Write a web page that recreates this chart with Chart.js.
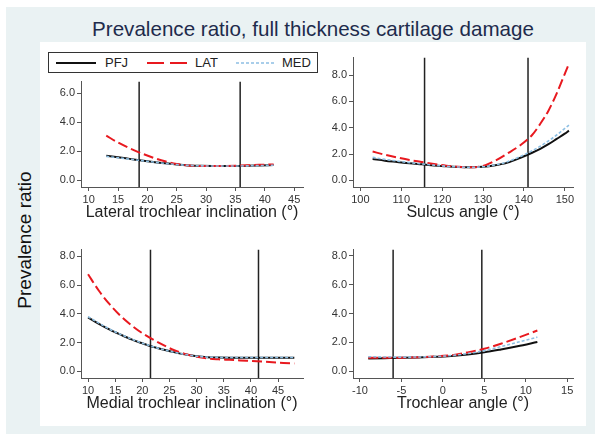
<!DOCTYPE html>
<html>
<head>
<meta charset="utf-8">
<script src="https://cdn.jsdelivr.net/npm/chart.js@4.4.1/dist/chart.umd.min.js"></script>
<style>
  body { margin: 0; width: 601px; height: 442px; background: #fff; position: relative; overflow: hidden;
         font-family: "Liberation Sans", Arial, sans-serif; }
  #outer { position: absolute; left: 6px; top: 7px; width: 589px; height: 427px; background: #eaf2f3; }
  #inner { position: absolute; left: 40px; top: 42px; width: 546px; height: 384px; background: #fff; }
  #title { position: absolute; left: 40px; width: 546px; top: 17px; text-align: center; font-size: 20.6px; color: #1e2b4c; white-space: nowrap; }
  #ylab { position: absolute; left: 25px; top: 240px; transform: translate(-50%, -50%) rotate(-90deg);
          font-size: 19px; color: #111; white-space: nowrap; }
  #legend { position: absolute; left: 48px; top: 52px; width: 270px; height: 21px; box-sizing: border-box;
            border: 1px solid #333; background: #fff; font-size: 13px; color: #222; }
  #legend svg, #legend span { position: absolute; }
  #legend span { top: 2px; }
  canvas { position: absolute; }
</style>
</head>
<body>
<div id="outer"></div>
<div id="inner"></div>
<div id="title">Prevalence ratio, full thickness cartilage damage</div>
<div id="ylab">Prevalence ratio</div>
<div id="legend">
  <svg style="left:6px;top:0" width="42" height="19"><line x1="1" y1="10" x2="41" y2="10" stroke="#111" stroke-width="2"/></svg>
  <span style="left:56px">PFJ</span>
  <svg style="left:97px;top:0" width="42" height="19"><line x1="1" y1="10" x2="41" y2="10" stroke="#e8191f" stroke-width="2" stroke-dasharray="17 6"/></svg>
  <span style="left:146px">LAT</span>
  <svg style="left:186px;top:0" width="42" height="19"><line x1="1" y1="10" x2="41" y2="10" stroke="#8dbfe3" stroke-width="1.6" stroke-dasharray="3 2"/></svg>
  <span style="left:233px">MED</span>
</div>
<canvas id="c1"></canvas>
<canvas id="c2"></canvas>
<canvas id="c3"></canvas>
<canvas id="c4"></canvas>
<script>
// Lateral trochlear inclination
const latX   = [13, 15, 17, 19, 21, 23, 25, 27, 29, 31, 33, 35, 37, 39, 41.5];
const latPFJ = [1.68, 1.58, 1.47, 1.36, 1.26, 1.16, 1.08, 1.02, 0.99, 0.98, 0.98, 0.98, 0.99, 1.01, 1.04];
const latLAT = [3.07, 2.60, 2.20, 1.85, 1.55, 1.30, 1.12, 1.02, 0.98, 0.97, 0.98, 1.00, 1.03, 1.06, 1.08];
const latMED = [1.64, 1.55, 1.45, 1.35, 1.25, 1.16, 1.08, 1.02, 0.99, 0.98, 0.98, 0.98, 0.99, 1.01, 1.03];
const latRefs = [18.6, 35.8];
const latXTicks = [10, 15, 20, 25, 30, 35, 40, 45];
const latYTicks = [0, 2, 4, 6];

// Sulcus angle
const sulX   = [103, 106, 109, 112, 115, 118, 121, 124, 127, 130, 133, 136, 139, 142, 144, 146, 148, 150, 151];
const sulPFJ = [1.62, 1.50, 1.40, 1.30, 1.22, 1.14, 1.07, 1.02, 1.00, 1.03, 1.15, 1.35, 1.70, 2.10, 2.40, 2.75, 3.15, 3.55, 3.78];
const sulLAT = [2.19, 1.95, 1.74, 1.55, 1.40, 1.25, 1.12, 1.03, 1.00, 1.10, 1.50, 2.05, 2.65, 3.45, 4.30, 5.30, 6.60, 8.10, 8.85];
const sulMED = [1.75, 1.60, 1.47, 1.35, 1.25, 1.16, 1.08, 1.02, 1.00, 1.04, 1.18, 1.42, 1.80, 2.25, 2.60, 3.00, 3.45, 3.95, 4.20];
const sulRefs = [115.7, 141.0];
const sulXTicks = [100, 110, 120, 130, 140, 150];
const sulYTicks = [0, 2, 4, 6, 8];

// Medial trochlear inclination
const medX   = [10, 12, 14, 16, 18, 20, 22, 24, 26, 28, 30, 32, 34, 36, 38, 40, 42, 44, 46, 48];
const medPFJ = [3.75, 3.30, 2.90, 2.55, 2.22, 1.95, 1.70, 1.50, 1.32, 1.17, 1.05, 0.98, 0.96, 0.95, 0.95, 0.95, 0.95, 0.95, 0.95, 0.95];
const medLAT = [6.75, 5.60, 4.65, 3.85, 3.20, 2.65, 2.20, 1.80, 1.45, 1.20, 1.02, 0.90, 0.84, 0.80, 0.76, 0.72, 0.68, 0.64, 0.59, 0.55];
const medMED = [3.80, 3.35, 2.93, 2.57, 2.24, 1.96, 1.71, 1.50, 1.32, 1.17, 1.05, 0.99, 0.97, 0.96, 0.96, 0.96, 0.96, 0.96, 0.96, 0.96];
const medRefs = [21.5, 41.4];
const medXTicks = [10, 15, 20, 25, 30, 35, 40, 45];
const medYTicks = [0, 2, 4, 6, 8];

// Trochlear angle
const troX   = [-9, -7, -5, -3, -1, 1, 3, 5, 7, 9, 11.4];
const troPFJ = [0.88, 0.90, 0.92, 0.95, 0.99, 1.05, 1.15, 1.30, 1.50, 1.72, 2.02];
const troLAT = [0.92, 0.92, 0.93, 0.96, 1.01, 1.10, 1.30, 1.55, 1.90, 2.30, 2.82];
const troMED = [1.00, 0.98, 0.97, 0.98, 1.01, 1.08, 1.22, 1.42, 1.70, 2.00, 2.36];
const troRefs = [-6.0, 4.7];
const troXTicks = [-10, -5, 0, 5, 10, 15];
const troYTicks = [0, 2, 4, 6, 8];

const Y_W = 41, X_H = 35, PAD_T = 6, PAD_R = 4;

function pts(xs, ys) {
  return xs.map((x, i) => ({ x: x, y: ys[i] }));
}

function makePanel(id, p) {
  const cv = document.getElementById(id);
  const left = p.box.L - Y_W, top = p.box.T - PAD_T;
  const w = p.box.R + PAD_R - left, h = p.box.B + X_H - top;
  cv.style.left = left + 'px';
  cv.style.top = top + 'px';
  cv.width = w; cv.height = h;

  const curve = (label, ys, color, width, dash, order) => ({
    label: label, data: pts(p.xs, ys), borderColor: color, borderWidth: width, borderDash: dash,
    pointRadius: 0, fill: false, cubicInterpolationMode: 'monotone', order: order
  });
  const datasets = [
    curve('MED', p.med, '#8dbfe3', 1.6, [3, 2], 0),
    curve('LAT', p.lat, '#e8191f', 2, [10, 4], 1),
    curve('PFJ', p.pfj, '#111111', 2, [], 2)
  ];
  p.refs.forEach(r => datasets.push({
    data: [{ x: r, y: p.yr[0] }, { x: r, y: p.yr[1] }], borderColor: '#222', borderWidth: 1.5,
    pointRadius: 0, order: 3
  }));

  const tickFont = { family: '"Liberation Sans", Arial, sans-serif', size: 11 };
  new Chart(cv, {
    type: 'line',
    data: { datasets: datasets },
    options: {
      responsive: false, animation: false, devicePixelRatio: 1,
      layout: { padding: { top: PAD_T, right: PAD_R, left: 0, bottom: 0 } },
      plugins: { legend: { display: false }, tooltip: { enabled: false } },
      scales: {
        x: {
          type: 'linear', min: p.xr[0], max: p.xr[1],
          afterBuildTicks: s => { s.ticks = p.xTicks.map(v => ({ value: v })); },
          afterFit: s => { s.height = X_H; },
          ticks: { color: '#333', font: tickFont, padding: 2, maxRotation: 0, callback: v => String(v) },
          grid: { drawOnChartArea: false, drawTicks: true, tickLength: 4, color: '#555' },
          border: { display: true, color: '#555', width: 1 },
          title: { display: true, text: p.xTitle, color: '#222', padding: 0,
                   font: { family: '"Liberation Sans", Arial, sans-serif', size: 16 } }
        },
        y: {
          type: 'linear', min: p.yr[0], max: p.yr[1],
          afterBuildTicks: s => { s.ticks = p.yTicks.map(v => ({ value: v })); },
          afterFit: s => { s.width = Y_W; },
          ticks: { color: '#333', font: tickFont, padding: 2, callback: v => v.toFixed(1) },
          grid: { drawOnChartArea: false, drawTicks: true, tickLength: 4, color: '#555' },
          border: { display: true, color: '#555', width: 1 }
        }
      }
    }
  });
}

makePanel('c1', { box: { L: 81, R: 303, T: 79, B: 187 }, xs: latX, pfj: latPFJ, lat: latLAT, med: latMED,
  refs: latRefs, xTicks: latXTicks, yTicks: latYTicks, xr: [8.7, 46.5], yr: [-0.47, 6.8],
  xTitle: 'Lateral trochlear inclination (°)' });
makePanel('c2', { box: { L: 353, R: 573, T: 55, B: 187 }, xs: sulX, pfj: sulPFJ, lat: sulLAT, med: sulMED,
  refs: sulRefs, xTicks: sulXTicks, yTicks: sulYTicks, xr: [98.2, 152], yr: [-0.5, 9.33],
  xTitle: 'Sulcus angle (°)' });
makePanel('c3', { box: { L: 81, R: 303, T: 247, B: 378 }, xs: medX, pfj: medPFJ, lat: medLAT, med: medMED,
  refs: medRefs, xTicks: medXTicks, yTicks: medYTicks, xr: [8.7, 49.6], yr: [-0.46, 8.46],
  xTitle: 'Medial trochlear inclination (°)' });
makePanel('c4', { box: { L: 353, R: 573, T: 247, B: 378 }, xs: troX, pfj: troPFJ, lat: troLAT, med: troMED,
  refs: troRefs, xTicks: troXTicks, yTicks: troYTicks, xr: [-10.84, 15.7], yr: [-0.48, 8.44],
  xTitle: 'Trochlear angle (°)' });
</script>
</body>
</html>
